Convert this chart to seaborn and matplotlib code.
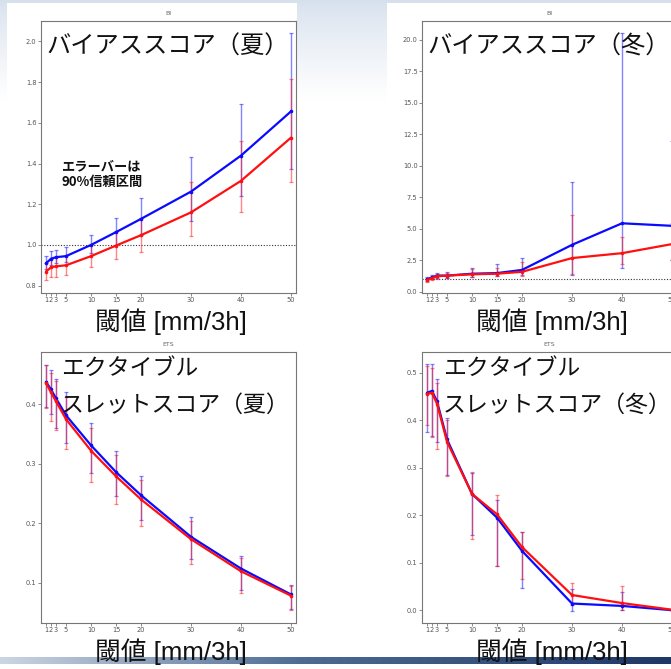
import numpy as np
import pandas as pd
import matplotlib
matplotlib.use("Agg")
import matplotlib.pyplot as plt
import seaborn as sns

# ---- data -------------------------------------------------------------
thresholds = [1, 2, 3, 5, 10, 15, 20, 30, 40, 50]
tick_labels = ["1", "2", "3", "5", "10", "15", "20", "30", "40", "50"]

# Bias score, summer
bi_sum_blue = [0.910, 0.932, 0.940, 0.945, 1.000, 1.063, 1.128, 1.262, 1.439, 1.656]
bi_sum_blue_lo = [0.880, 0.900, 0.910, 0.915, 0.960, 1.000, 1.050, 1.120, 1.240, 1.375]
bi_sum_blue_hi = [0.945, 0.970, 0.975, 0.990, 1.050, 1.130, 1.230, 1.430, 1.690, 2.040]
bi_sum_red = [0.869, 0.890, 0.895, 0.900, 0.945, 0.997, 1.048, 1.160, 1.315, 1.527]
bi_sum_red_lo = [0.830, 0.845, 0.845, 0.850, 0.890, 0.930, 0.965, 1.045, 1.160, 1.310]
bi_sum_red_hi = [0.910, 0.930, 0.940, 0.950, 1.000, 1.070, 1.130, 1.310, 1.510, 1.815]

# Bias score, winter
bi_win_blue = [1.00, 1.15, 1.30, 1.30, 1.45, 1.50, 1.75, 3.74, 5.45, 5.25]
bi_win_blue_lo = [0.85, 1.00, 1.10, 1.10, 1.20, 1.25, 1.35, 1.37, 1.90, 2.50]
bi_win_blue_hi = [1.15, 1.35, 1.50, 1.60, 1.90, 2.20, 2.70, 8.74, 20.55, 12.00]
bi_win_red = [0.95, 1.10, 1.25, 1.30, 1.40, 1.45, 1.60, 2.69, 3.08, 3.80]
bi_win_red_lo = [0.80, 0.95, 1.05, 1.10, 1.20, 1.25, 1.30, 1.40, 2.20, 2.50]
bi_win_red_hi = [1.10, 1.30, 1.45, 1.50, 1.85, 1.90, 2.40, 6.11, 4.40, 5.50]

# Equitable threat score, summer
ets_sum_blue = [0.4376, 0.425, 0.410, 0.3815, 0.331, 0.286, 0.247, 0.177, 0.1236, 0.080]
ets_sum_blue_lo = [0.395, 0.383, 0.360, 0.335, 0.284, 0.245, 0.205, 0.140, 0.088, 0.055]
ets_sum_blue_hi = [0.466, 0.458, 0.442, 0.420, 0.368, 0.322, 0.280, 0.210, 0.145, 0.096]
ets_sum_red = [0.436, 0.420, 0.405, 0.375, 0.322, 0.279, 0.240, 0.173, 0.119, 0.078]
ets_sum_red_lo = [0.393, 0.372, 0.357, 0.325, 0.270, 0.232, 0.195, 0.132, 0.083, 0.054]
ets_sum_red_hi = [0.466, 0.452, 0.440, 0.412, 0.360, 0.315, 0.273, 0.203, 0.142, 0.095]

# Equitable threat score, winter
ets_win_blue = [0.458, 0.462, 0.440, 0.360, 0.245, 0.195, 0.125, 0.014, 0.009, 0.000]
ets_win_blue_lo = [0.375, 0.367, 0.355, 0.285, 0.158, 0.093, 0.047, -0.002, 0.000, 0.000]
ets_win_blue_hi = [0.518, 0.518, 0.487, 0.405, 0.290, 0.233, 0.165, 0.045, 0.038, 0.000]
ets_win_red = [0.456, 0.458, 0.435, 0.355, 0.245, 0.202, 0.133, 0.032, 0.015, 0.001]
ets_win_red_lo = [0.390, 0.365, 0.340, 0.283, 0.150, 0.093, 0.065, 0.010, 0.000, 0.000]
ets_win_red_hi = [0.515, 0.510, 0.478, 0.400, 0.292, 0.242, 0.165, 0.057, 0.050, 0.001]

# ---- style ------------------------------------------------------------
sns.set_theme(style="ticks")
plt.rcParams["font.family"] = ["Noto Sans CJK JP", "DejaVu Sans"]

W, H = 671, 669
fig = plt.figure(figsize=(W / 100, H / 100), dpi=100)


def fx(x):
    return x / W


def fy(y):
    return 1 - y / H


# ---- slide background -------------------------------------------------
img = np.ones((H, W, 3))
top = np.array([0.84, 0.88, 0.93])
for yy in range(100):
    t = (yy / 100) ** 0.8
    img[yy, :, :] = top * (1 - t) + 1.0 * t
# white plot panels
img[3:340, 7:297, :] = 1.0
img[3:340, 387:W, :] = 1.0
# bottom band
left_c = np.array([0.80, 0.84, 0.89])
mid_c = np.array([0.30, 0.42, 0.58])
right_c = np.array([0.12, 0.22, 0.40])
for xx in range(W):
    t = xx / (W - 1)
    if t < 0.45:
        c = left_c * (1 - t / 0.45) + mid_c * (t / 0.45)
    else:
        u = (t - 0.45) / 0.55
        c = mid_c * (1 - u) + right_c * u
    img[657:664, xx, :] = c
bg = fig.add_axes([0, 0, 1, 1], zorder=-5)
bg.imshow(img, extent=[0, W, H, 0], aspect="auto", interpolation="bilinear")
bg.axis("off")

BLUE = "#0a0aff"
RED = "#ff1010"


def panel(rect_px, title, blue, blo, bhi, red, rlo, rhi, ylim, yticks, yfmt, ref=None):
    l, t, r, b = rect_px
    ax = fig.add_axes([fx(l), fy(b), (r - l) / W, (b - t) / H])
    df = pd.DataFrame({
        "threshold": thresholds * 2,
        "score": list(blue) + list(red),
        "run": ["blue"] * len(thresholds) + ["red"] * len(thresholds),
    })
    if ref is not None:
        ax.axhline(ref, color="#333333", lw=0.8, ls=(0, (1, 1.5)), zorder=1)
    for vals, lo, hi, col in ((blue, blo, bhi, BLUE), (red, rlo, rhi, RED)):
        v = np.array(vals)
        ax.errorbar(thresholds, v, yerr=[v - np.array(lo), np.array(hi) - v],
                    fmt="none", ecolor=col, alpha=0.5, elinewidth=1.0,
                    capsize=1.3, capthick=0.9, zorder=2)
    sns.lineplot(data=df, x="threshold", y="score", hue="run",
                 palette={"blue": BLUE, "red": RED}, lw=1.6,
                 marker="o", markersize=2.6, markeredgewidth=0,
                 legend=False, ax=ax, zorder=3)
    ax.set_xlim(0, 51)
    ax.set_ylim(*ylim)
    ax.set_xticks(thresholds)
    ax.set_xticklabels(tick_labels)
    ax.set_yticks(yticks)
    ax.set_yticklabels([yfmt.format(v) for v in yticks])
    ax.set_xlabel("")
    ax.set_ylabel("")
    ax.set_title(title, fontsize=4.5, color="#666666", pad=4,
                 family=["DejaVu Sans"])
    ax.tick_params(labelsize=4.8, labelcolor="#555555", color="#777777",
                   length=2, width=0.6, pad=1.2)
    for lab in ax.get_xticklabels() + ax.get_yticklabels():
        lab.set_family(["DejaVu Sans"])
    for s in ax.spines.values():
        s.set_visible(True)
        s.set_color("#777777")
        s.set_linewidth(0.8)
    return ax


panel((41, 21, 296, 293), "BI", bi_sum_blue, bi_sum_blue_lo, bi_sum_blue_hi,
      bi_sum_red, bi_sum_red_lo, bi_sum_red_hi, (0.764, 2.10),
      [0.8, 1.0, 1.2, 1.4, 1.6, 1.8, 2.0], "{:.1f}", ref=1.0)
panel((422, 21, 677, 293), "BI", bi_win_blue, bi_win_blue_lo, bi_win_blue_hi,
      bi_win_red, bi_win_red_lo, bi_win_red_hi, (-0.08, 21.5),
      [0.0, 2.5, 5.0, 7.5, 10.0, 12.5, 15.0, 17.5, 20.0], "{:.1f}", ref=1.0)
panel((41, 352, 296, 623), "ETS", ets_sum_blue, ets_sum_blue_lo, ets_sum_blue_hi,
      ets_sum_red, ets_sum_red_lo, ets_sum_red_hi, (0.032, 0.488),
      [0.1, 0.2, 0.3, 0.4], "{:.1f}")
panel((422, 352, 677, 623), "ETS", ets_win_blue, ets_win_blue_lo, ets_win_blue_hi,
      ets_win_red, ets_win_red_lo, ets_win_red_hi, (-0.027, 0.544),
      [0.0, 0.1, 0.2, 0.3, 0.4, 0.5], "{:.1f}")

# ---- overlaid captions ------------------------------------------------
jp = ["Noto Sans CJK JP", "DejaVu Sans"]
lab_font = ["Liberation Sans", "Noto Sans CJK JP"]

fig.text(fx(46), fy(47), "バイアススコア（夏）", fontsize=17.5, family=jp,
         va="center", ha="left", color="#111111")
fig.text(fx(427), fy(47), "バイアススコア（冬）", fontsize=17.5, family=jp,
         va="center", ha="left", color="#111111")

fig.text(fx(61), fy(368), "エクタイブル", fontsize=16.5, family=jp,
         va="center", ha="left", color="#111111")
fig.text(fx(61), fy(405), "スレットスコア（夏）", fontsize=16.5, family=jp,
         va="center", ha="left", color="#111111")
fig.text(fx(443), fy(368), "エクタイブル", fontsize=16.5, family=jp,
         va="center", ha="left", color="#111111")
fig.text(fx(443), fy(405), "スレットスコア（冬）", fontsize=16.5, family=jp,
         va="center", ha="left", color="#111111")

fig.text(fx(61), fy(174), "エラーバーは\n90%信頼区間", fontsize=9.5,
         family=jp, weight="bold", va="center", ha="left",
         linespacing=1.1, color="#111111")

for cx in (171, 552):
    for cy in (322, 652):
        fig.text(fx(cx), fy(cy), "閾値 [mm/3h]", fontsize=18.5, family=lab_font,
                 va="center", ha="center", color="#111111")

fig.savefig("out.png", dpi=100)
